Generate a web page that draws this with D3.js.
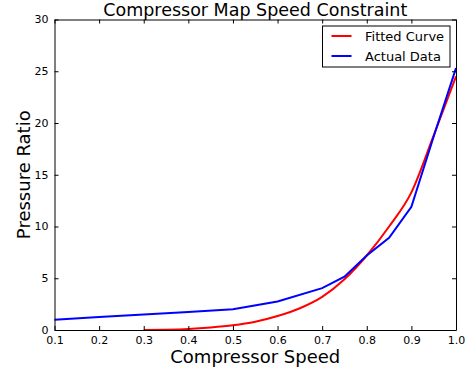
<!DOCTYPE html>
<html><head><meta charset="utf-8">
<script src="https://cdn.jsdelivr.net/npm/d3@7"></script>
<style>body{margin:0;background:#fff}svg{display:block}text{font-family:"DejaVu Sans",sans-serif}</style>
</head><body><svg id="c" width="469" height="374"></svg>
<script>
const title = "Compressor Map Speed Constraint";
const xLabel = "Compressor Speed";
const yLabel = "Pressure Ratio";
const xTicks = [0.1,0.2,0.3,0.4,0.5,0.6,0.7,0.8,0.9,1.0];
const yTicks = [0,5,10,15,20,25,30];
const fitX = [0.3,0.35,0.4,0.45,0.5,0.55,0.6,0.65,0.7,0.75,0.8,0.85,0.9,0.95,1.0];
const fitY = [0.0,0.03,0.1,0.24,0.45,0.8,1.35,2.1,3.2,4.9,7.2,10.0,13.3,18.8,24.5];
const actX = [0.1,0.2,0.3,0.4,0.5,0.6,0.7,0.75,0.8,0.85,0.9,0.95,1.0];
const actY = [1.0,1.25,1.5,1.75,2.0,2.75,4.05,5.15,7.2,8.9,11.9,18.7,25.3];
const seriesNames = ["Fitted Curve","Actual Data"];
const seriesColors = ["#ff0000","#0000ff"];

const svg = d3.select("#c");
const L=54.5, R=456, T=19.5, B=330;
const x = d3.scaleLinear().domain([0.1,1.0]).range([L,R]);
const y = d3.scaleLinear().domain([0,30]).range([B,T]);

const line = d3.line().x(d=>x(d[0])).y(d=>y(d[1])).curve(d3.curveMonotoneX);
const g = svg.append("g");
g.append("path").datum(fitX.map((v,i)=>[v,fitY[i]])).attr("d",line)
  .attr("fill","none").attr("stroke",seriesColors[0]).attr("stroke-width",2);
g.append("path").datum(actX.map((v,i)=>[v,actY[i]])).attr("d",d3.line().x(d=>x(d[0])).y(d=>y(d[1])))
  .attr("fill","none").attr("stroke",seriesColors[1]).attr("stroke-width",2);

// axes
const fmt = d=>d.toFixed(1);
const bx = svg.append("g").attr("transform",`translate(0,${B})`)
  .call(d3.axisBottom(x).tickValues(xTicks).tickFormat(fmt).tickSizeInner(-4).tickSizeOuter(0).tickPadding(6));
const tx = svg.append("g").attr("transform",`translate(0,${T})`)
  .call(d3.axisTop(x).tickValues(xTicks).tickFormat("").tickSizeInner(-4).tickSizeOuter(0));
const ly = svg.append("g").attr("transform",`translate(${L},0)`)
  .call(d3.axisLeft(y).tickValues(yTicks).tickFormat(d3.format("d")).tickSizeInner(-4).tickSizeOuter(0).tickPadding(6));
const ry = svg.append("g").attr("transform",`translate(${R},0)`)
  .call(d3.axisRight(y).tickValues(yTicks).tickFormat("").tickSizeInner(-4).tickSizeOuter(0));
[bx,tx,ly,ry].forEach(a=>{
  a.select(".domain").attr("stroke","#000").attr("stroke-width",1);
  a.selectAll(".tick line").attr("stroke","#000");
  a.selectAll("text").attr("font-size",11).attr("fill","#000").attr("font-family","DejaVu Sans");
});
bx.selectAll("text").attr("dy","0.71em");
ly.selectAll("text").attr("dy","0.3em");

svg.append("text").attr("x",(L+R)/2).attr("y",15.5).attr("text-anchor","middle")
  .attr("font-size",17.5).text(title);
svg.append("text").attr("x",(L+R)/2).attr("y",363).attr("text-anchor","middle")
  .attr("font-size",18).text(xLabel);
svg.append("text").attr("transform",`translate(30,${(T+B)/2}) rotate(-90)`).attr("text-anchor","middle")
  .attr("font-size",18).text(yLabel);

// legend
const lg = svg.append("g");
lg.append("rect").attr("x",322.5).attr("y",26).attr("width",127.5).attr("height",41)
  .attr("fill","#fff").attr("stroke","#000").attr("stroke-width",1);
seriesNames.forEach((n,i)=>{
  const yy = 36 + i*20;
  lg.append("line").attr("x1",331.5).attr("x2",351.5).attr("y1",yy).attr("y2",yy)
    .attr("stroke",seriesColors[i]).attr("stroke-width",2);
  lg.append("text").attr("x",365).attr("y",yy).attr("dy","0.35em").attr("font-size",13).text(n);
});
</script></body></html>
